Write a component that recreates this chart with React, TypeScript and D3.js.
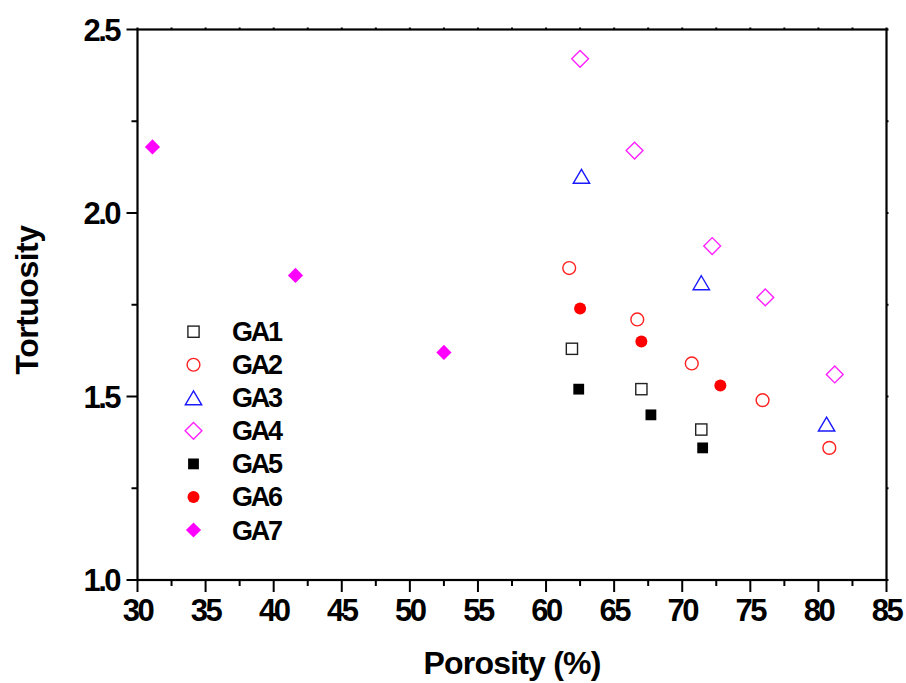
import React from "react";
import * as d3 from "d3";

const seriesNames = ["GA1", "GA2", "GA3", "GA4", "GA5", "GA6", "GA7"];
const ga1X = [61.9, 67.0, 71.4];
const ga1Y = [1.63, 1.52, 1.41];
const ga2X = [61.7, 66.7, 70.7, 75.9, 80.8];
const ga2Y = [1.85, 1.71, 1.59, 1.49, 1.36];
const ga3X = [62.6, 71.4, 80.6];
const ga3Y = [2.10, 1.81, 1.425];
const ga4X = [62.5, 66.5, 72.2, 76.1, 81.2];
const ga4Y = [2.42, 2.17, 1.91, 1.77, 1.56];
const ga5X = [62.4, 67.7, 71.5];
const ga5Y = [1.52, 1.45, 1.36];
const ga6X = [62.5, 67.0, 72.8];
const ga6Y = [1.74, 1.65, 1.53];
const ga7X = [31.1, 41.6, 52.5];
const ga7Y = [2.18, 1.83, 1.62];

const xTicks = [30, 35, 40, 45, 50, 55, 60, 65, 70, 75, 80, 85];
const yTicks = [1.0, 1.5, 2.0, 2.5];

type Sym = { kind: string; color: string; filled: boolean };
const symbols: Sym[] = [
  { kind: "square", color: "#222222", filled: false },
  { kind: "circle", color: "#ff2020", filled: false },
  { kind: "triangle", color: "#1a1aff", filled: false },
  { kind: "diamond", color: "#ff20ff", filled: false },
  { kind: "square", color: "#000000", filled: true },
  { kind: "circle", color: "#ff0000", filled: true },
  { kind: "diamond", color: "#ff00ff", filled: true },
];
const seriesX = [ga1X, ga2X, ga3X, ga4X, ga5X, ga6X, ga7X];
const seriesY = [ga1Y, ga2Y, ga3Y, ga4Y, ga5Y, ga6Y, ga7Y];

function Marker({ s, cx, cy }: { s: Sym; cx: number; cy: number }) {
  const fill = s.filled ? s.color : "none";
  const stroke = s.color;
  const sw = s.filled ? 0 : 1.4;
  if (s.kind === "square") {
    const h = s.filled ? 5.4 : 5.6;
    return <rect x={cx - h} y={cy - h} width={2 * h} height={2 * h} fill={fill} stroke={stroke} strokeWidth={sw} />;
  }
  if (s.kind === "circle") {
    const r = s.filled ? 6 : 6.4;
    return <circle cx={cx} cy={cy} r={r} fill={fill} stroke={stroke} strokeWidth={sw} />;
  }
  if (s.kind === "triangle") {
    const w = 8.2, h = 7;
    return <path d={`M${cx},${cy - h}L${cx + w},${cy + h}L${cx - w},${cy + h}Z`} fill={fill} stroke={stroke} strokeWidth={sw} />;
  }
  const r = s.filled ? 7.6 : 8.4;
  return <path d={`M${cx},${cy - r}L${cx + r},${cy}L${cx},${cy + r}L${cx - r},${cy}Z`} fill={fill} stroke={stroke} strokeWidth={sw} />;
}

export default function App() {
  const W = 906, H = 683;
  const x = d3.scaleLinear().domain([30, 85]).range([137.5, 886.5]);
  const y = d3.scaleLinear().domain([1.0, 2.5]).range([580, 29.5]);
  const font = "'Liberation Sans', Arial, sans-serif";
  const xMinor = d3.range(30, 85.01, 2.5);
  const yMinor = d3.range(1.0, 2.501, 0.25);
  return (
    <svg width={W} height={H} style={{ position: "absolute", left: 0, top: 0, background: "#fff" }}>
      <rect width={W} height={H} fill="#fff" />
      <rect x={x(30)} y={y(2.5)} width={x(85) - x(30)} height={y(1.0) - y(2.5)} fill="none" stroke="#000" strokeWidth={2.2} />
      {xMinor.map((v, i) => (
        <line key={"xb" + i} x1={x(v)} x2={x(v)} y1={y(1.0)} y2={y(1.0) + (Math.abs(v % 5) < 1e-6 ? 12 : 6)} stroke="#000" strokeWidth={2} />
      ))}
      {xMinor.map((v, i) => (
        <line key={"xt" + i} x1={x(v)} x2={x(v)} y1={y(2.5)} y2={y(2.5) - 2} stroke="#000" strokeWidth={2} />
      ))}
      {yMinor.map((v, i) => (
        <line key={"yl" + i} x1={x(30)} x2={x(30) - (Math.abs((v * 2) % 1) < 1e-6 ? 11 : 6)} y1={y(v)} y2={y(v)} stroke="#000" strokeWidth={2} />
      ))}
      {yMinor.map((v, i) => (
        <line key={"yr" + i} x1={x(85)} x2={x(85) + 2} y1={y(v)} y2={y(v)} stroke="#000" strokeWidth={2} />
      ))}
      {xTicks.map((v) => (
        <text key={"xl" + v} x={x(v)} y={621} textAnchor="middle" fontFamily={font} fontWeight="bold" fontSize={31} letterSpacing={-2.5} fill="#000">
          {v}
        </text>
      ))}
      {yTicks.map((v) => (
        <text key={"yl" + v} x={119} y={y(v) + 11} textAnchor="end" fontFamily={font} fontWeight="bold" fontSize={31} letterSpacing={-2.5} fill="#000">
          {v.toFixed(1)}
        </text>
      ))}
      <text x={512} y={674} textAnchor="middle" fontFamily={font} fontWeight="bold" fontSize={32} letterSpacing={-0.8} fill="#000">
        Porosity (%)
      </text>
      <text transform="translate(38,300) rotate(-90)" textAnchor="middle" fontFamily={font} fontWeight="bold" fontSize={32} letterSpacing={-0.5} fill="#000">
        Tortuosity
      </text>
      {seriesX.map((xs, si) =>
        xs.map((xv, pi) => <Marker key={si + "-" + pi} s={symbols[si]} cx={x(xv)} cy={y(seriesY[si][pi])} />)
      )}
      {seriesNames.map((n, i) => {
        const cy = 331.7 + i * 33.05;
        return (
          <g key={n}>
            <Marker s={symbols[i]} cx={193.5} cy={cy} />
            <text x={232} y={cy + 9.5} fontFamily={font} fontWeight="bold" fontSize={27} letterSpacing={-2.2} fill="#000">
              {n}
            </text>
          </g>
        );
      })}
    </svg>
  );
}
